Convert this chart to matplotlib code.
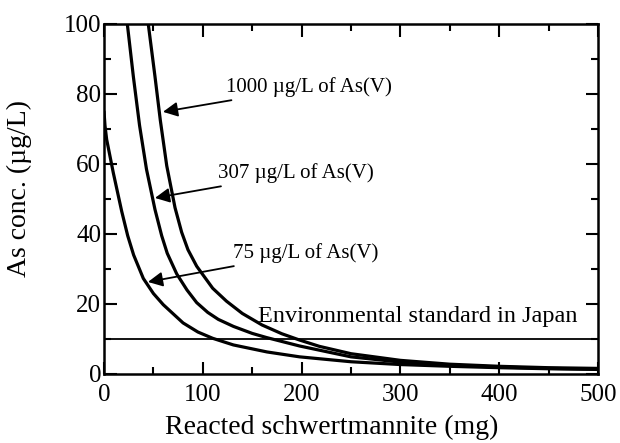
import matplotlib
matplotlib.use("Agg")
import matplotlib.pyplot as plt
from matplotlib.ticker import MultipleLocator

plt.rcParams['font.family'] = ['Liberation Serif', 'DejaVu Serif']

# Data
x_1000 = [44.8, 51.6, 57, 63.5, 71.9, 78.6, 85, 93.8, 110, 124, 140, 160, 180, 198, 218, 250, 300, 350, 400, 450, 500]
y_1000 = [100, 85, 72.5, 59.5, 47.5, 40.5, 35.5, 30.8, 24.5, 20.8, 17.3, 14, 11.5, 9.7, 7.9, 5.8, 3.9, 2.8, 2.2, 1.8, 1.6]

x_307 = [23.6, 29.7, 36, 43, 51.6, 58.4, 64, 73.6, 84, 93.8, 105, 115.7, 131, 150, 164.7, 198, 250, 300, 350, 400, 450, 500]
y_307 = [100, 85, 71, 58.5, 47, 39.5, 34.5, 28.6, 24, 20.4, 17.6, 15.6, 13.6, 11.6, 10.4, 8.0, 4.9, 3.4, 2.5, 2.0, 1.6, 1.4]

x_75 = [0, 1, 2.7, 9.4, 17.9, 24, 30, 39.8, 50, 60, 80, 95, 110, 131, 165, 198, 250, 300, 350, 400, 450, 500]
y_75 = [75, 71, 67, 57.5, 46.5, 39.5, 34, 27.3, 23, 19.8, 14.6, 12, 10.2, 8.3, 6.3, 4.9, 3.5, 2.7, 2.2, 1.8, 1.5, 1.3]

standard = 10
labels = ["1000 µg/L of As(V)", "307 µg/L of As(V)", "75 µg/L of As(V)"]
label_xy = [(123.5, 82), (115.4, 57.4), (130.6, 34.6)]
arrow_heads = [(59.7, 74.9), (51.6, 50.3), (44.5, 26.3)]
std_label = "Environmental standard in Japan"

fig = plt.figure(figsize=(6.2, 4.43), dpi=100)
ax = fig.add_axes([104/620, 1-374/443, (598-104)/620, (374-24)/443])

for xs, ys in [(x_1000, y_1000), (x_307, y_307), (x_75, y_75)]:
    ax.plot(xs, ys, color='black', lw=2.3, solid_capstyle='round', solid_joinstyle='round')

ax.axhline(standard, color='black', lw=1.3)
ax.text(156, 16.3, std_label, fontsize=17.5, va='center', ha='left')

for lab, (tx, ty), (hx, hy) in zip(labels, label_xy, arrow_heads):
    ax.annotate(lab, xy=(hx, hy), xytext=(tx, ty), fontsize=15,
                va='center', ha='left',
                arrowprops=dict(arrowstyle='-|>', color='black', lw=1.3,
                                mutation_scale=22, shrinkA=2, shrinkB=0))

ax.set_xlim(0, 500)
ax.set_ylim(0, 100)
ax.xaxis.set_major_locator(MultipleLocator(100))
ax.xaxis.set_minor_locator(MultipleLocator(50))
ax.yaxis.set_major_locator(MultipleLocator(20))
ax.yaxis.set_minor_locator(MultipleLocator(10))
ax.tick_params(which='both', direction='in', top=True, right=True, width=1.5, labelsize=18)
ax.tick_params(which='major', length=9)
ax.tick_params(which='minor', length=5)
ax.tick_params(axis='x', pad=7)
ax.tick_params(axis='y', pad=2)
for s in ax.spines.values():
    s.set_linewidth(1.8)

ax.set_xlabel("Reacted schwertmannite (mg)", fontsize=20)
ax.set_ylabel("As conc. (µg/L)", fontsize=20)
ax.xaxis.set_label_coords(0.46, -0.118)
ax.yaxis.set_label_coords(-0.145, 0.53)

fig.savefig("out.png", dpi=100)
